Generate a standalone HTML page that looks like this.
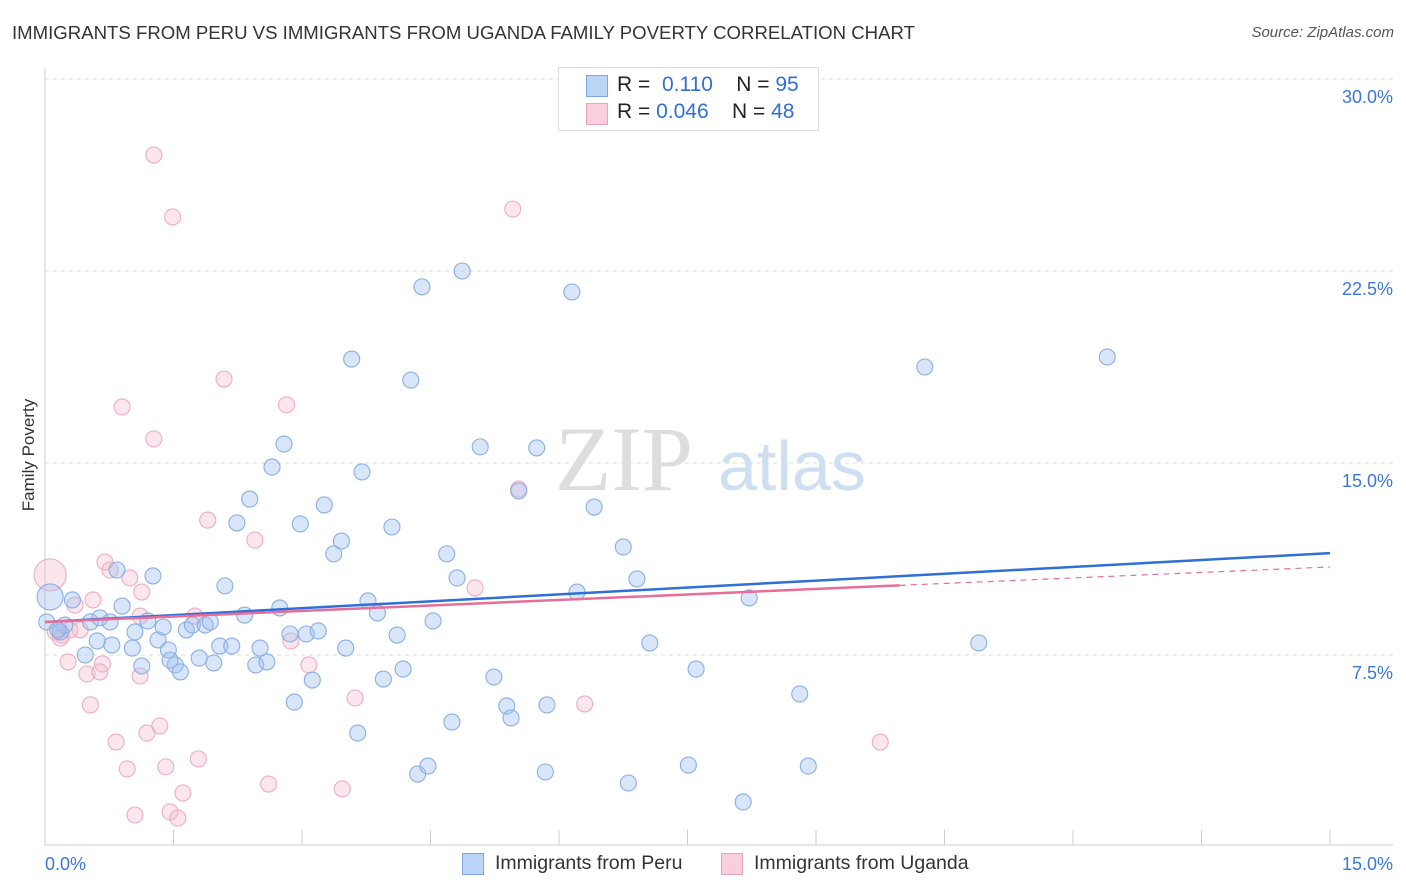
<!DOCTYPE html>
<html><head><meta charset="utf-8"><style>
body{margin:0;background:#fff;font-family:"Liberation Sans",sans-serif;}
#wrap{position:relative;width:1406px;height:892px;overflow:hidden;}
.t{position:absolute;white-space:nowrap;}
</style></head><body>
<div id="wrap">
<div class="t" style="left:12px;top:22px;font-size:18.6px;color:#333;">IMMIGRANTS FROM PERU VS IMMIGRANTS FROM UGANDA FAMILY POVERTY CORRELATION CHART</div>
<div class="t" style="right:12px;top:24px;font-size:15px;color:#555;font-style:italic;">Source: ZipAtlas.com</div>
<div class="t" style="left:-27px;top:445px;font-size:17px;color:#333;transform:rotate(-90deg);">Family Poverty</div>
<svg id="svg" width="1406" height="892" style="position:absolute;left:0;top:0"></svg>
</div>
<script>
const yTicks=[7.5,15,22.5,30];
const yTickLabels=["7.5%","15.0%","22.5%","30.0%"];
const xMin=0,xMax=15,yMin=0,yMax=30;
const peruX=[0.06,0.32,0.18,0.23,0.53,0.61,0.47,0.78,0.84,0.90,1.05,1.13,1.20,1.26,1.32,1.38,1.44,1.52,1.58,1.65,1.72,1.80,1.87,1.93,1.97,2.04,2.10,2.18,2.24,2.33,2.39,2.46,2.51,2.59,2.65,2.74,2.79,2.86,2.91,2.98,3.05,3.12,3.19,3.26,3.37,3.46,3.51,3.58,3.65,3.70,3.77,3.88,3.95,4.05,4.11,4.18,4.27,4.35,4.40,4.47,4.53,4.69,4.75,4.81,4.87,5.08,5.24,5.39,5.44,5.53,5.74,5.84,5.86,6.15,6.21,6.41,6.75,6.81,6.91,7.06,7.51,7.60,8.15,8.22,8.81,8.91,10.27,10.90,12.40,0.02,0.15,0.64,0.76,1.02,1.46];
const peruY=[9.77,9.65,8.40,8.67,8.79,8.05,7.50,7.89,10.82,9.41,8.40,7.07,8.83,10.59,8.09,8.59,7.70,7.11,6.84,8.48,8.67,7.38,8.67,8.79,7.19,7.85,10.20,7.85,12.66,9.06,13.59,7.11,7.77,7.23,14.84,9.34,15.74,8.32,5.66,12.62,8.32,6.52,8.44,13.36,11.45,11.95,7.77,19.06,4.45,14.65,9.61,9.14,6.56,12.50,8.28,6.95,18.24,2.85,21.88,3.16,8.83,11.45,4.88,10.51,22.50,15.63,6.64,5.51,5.04,13.91,15.59,2.93,5.55,21.68,9.96,13.28,11.72,2.50,10.47,7.97,3.20,6.95,1.76,9.73,5.98,3.16,18.75,7.97,19.14,8.79,8.48,8.95,8.79,7.77,7.30];
const ugX=[0.06,0.12,0.20,0.27,0.35,0.41,0.49,0.53,0.56,0.67,0.70,0.76,0.83,0.90,0.96,0.99,1.05,1.11,1.13,1.19,1.27,1.27,1.34,1.41,1.46,1.49,1.55,1.61,1.75,1.79,1.90,2.09,2.45,2.61,2.82,2.87,3.08,3.47,3.62,5.02,5.46,5.53,6.30,9.75,0.29,0.18,0.64,1.11];
const ugY=[10.63,8.40,8.28,7.23,9.45,8.48,6.76,5.55,9.65,7.15,11.13,10.82,4.10,17.19,3.05,10.51,1.25,9.02,9.96,4.45,15.94,27.03,4.73,3.13,1.37,24.61,1.13,2.11,9.02,3.44,12.77,18.28,11.99,2.46,17.27,8.05,7.11,2.27,5.82,10.12,24.92,13.98,5.59,4.10,8.48,8.16,6.84,6.68];
const peruLine=[8.79,11.48];
const ugLine=[8.79,10.94];
const ugSolidEnd=10.22;
const X0=45,X1=1330,Y0=847,Y1=79;
const sx=v=>X0+(v-xMin)/(xMax-xMin)*(X1-X0);
const sy=v=>Y0-(v-yMin)/(yMax-yMin)*(Y0-Y1);
const svg=document.getElementById('svg');const NS='http://www.w3.org/2000/svg';
function mk(t,a,p){const e=document.createElementNS(NS,t);for(const k in a)e.setAttribute(k,a[k]);(p||svg).appendChild(e);return e;}
let w=mk('text',{x:555,y:490,'font-size':92,fill:'#dddddd','font-family':'Liberation Serif,serif'});w.textContent='ZIP';


let w2=mk('text',{x:718,y:490,'font-size':70,fill:'#cfdff2','font-family':'Liberation Sans,sans-serif'});w2.textContent='atlas';


yTicks.forEach((v,i)=>{
 let g=mk('line',{x1:X0,x2:1393,y1:sy(v),y2:sy(v),stroke:'#ddd','stroke-dasharray':'4,4'});
 
 
 let t=mk('text',{x:1393,y:sy(v)+24,'text-anchor':'end','font-size':18,fill:'#3b78d8'});t.textContent=yTickLabels[i];
 
 
});
let ax=mk('line',{x1:X0,x2:X0,y1:68,y2:845,stroke:'#ccc'});


let bx=mk('line',{x1:X0,x2:1393,y1:845,y2:845,stroke:'#ccc'});


for(let i=0;i<=10;i++){let v=xMin+i*1.5;let tk=mk('line',{x1:sx(v),x2:sx(v),y1:830,y2:845,stroke:'#ccc'});
 
 }
let xl=mk('text',{x:45,y:870,'font-size':18,fill:'#3b78d8'});xl.textContent='0.0%';


let xr=mk('text',{x:1393,y:870,'font-size':18,fill:'#3b78d8','text-anchor':'end'});xr.textContent='15.0%';


function pts(xs,ys,fill,stroke,name,big){xs.forEach((x,i)=>{let r=(i===0&&big)?big:8;
 let c=mk('circle',{cx:sx(x),cy:sy(ys[i]),r:r,fill:fill,stroke:stroke,'stroke-width':1.1});
 
 });}
pts(ugX,ugY,'rgba(246,184,204,0.35)','#eeacc2','point-uganda',16);
pts(peruX,peruY,'rgba(160,193,240,0.4)','#88afe3','point-peru',13);
let l1=mk('line',{x1:sx(0),y1:sy(peruLine[0]),x2:sx(15),y2:sy(peruLine[1]),stroke:'#2f6fd6','stroke-width':2.5});


const ugXEnd=(ugSolidEnd-ugLine[0])/(ugLine[1]-ugLine[0])*15;
let l2=mk('line',{x1:sx(0),y1:sy(ugLine[0]),x2:sx(ugXEnd),y2:sy(ugSolidEnd),stroke:'#e66e98','stroke-width':2.5});


let l3=mk('line',{x1:sx(ugXEnd),y1:sy(ugSolidEnd),x2:sx(15),y2:sy(ugLine[1]),stroke:'#e66e98','stroke-width':1.2,'stroke-dasharray':'6,5'});


</script>
<div style="position:absolute;left:558px;top:67px;width:259px;height:62px;border:1px solid #ddd;background:#fff;font-size:21px;">
 <div style="position:absolute;left:27px;top:7px;width:20px;height:20px;background:#bcd4f5;border:1px solid #7ea8e0;"></div>
 <div class="t" style="left:58px;top:5px;color:#222;">R = &nbsp;<span style="color:#2f6fd6">0.110</span>&nbsp;&nbsp;&nbsp; N = <span style="color:#2f6fd6">95</span></div>
 <div style="position:absolute;left:27px;top:35px;width:20px;height:20px;background:#f9cfdc;border:1px solid #eba3bb;"></div>
 <div class="t" style="left:58px;top:32px;color:#222;">R = <span style="color:#2f6fd6">0.046</span>&nbsp;&nbsp;&nbsp; N = <span style="color:#2f6fd6">48</span></div>
</div>
<div style="position:absolute;top:852px;left:462px;font-size:19.5px;color:#333;">
 <span style="position:absolute;left:0;top:1px;width:20px;height:20px;background:#bcd4f5;border:1px solid #7ea8e0;"></span>
 <span class="t" style="left:33px;top:0">Immigrants from Peru</span>
 <span style="position:absolute;left:259px;top:1px;width:20px;height:20px;background:#f9cfdc;border:1px solid #eba3bb;"></span>
 <span class="t" style="left:292px;top:0">Immigrants from Uganda</span>
</div>
</body></html>
